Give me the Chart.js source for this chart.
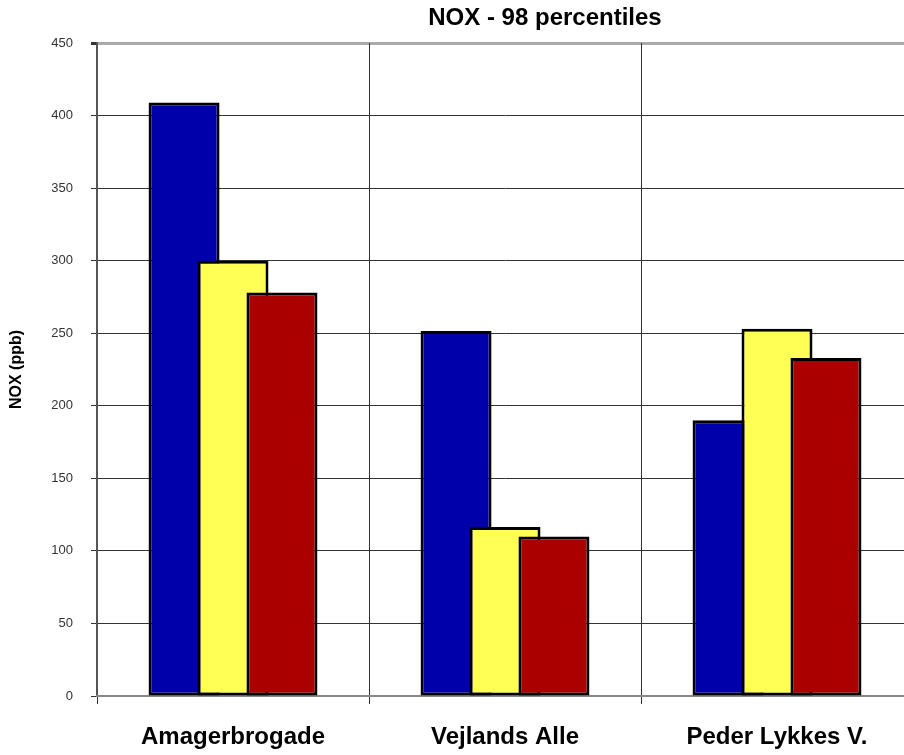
<!DOCTYPE html>
<html>
<head>
<meta charset="utf-8">
<script src="https://cdn.jsdelivr.net/npm/chart.js@4/dist/chart.umd.min.js"></script>
<style>
  html, body { margin: 0; padding: 0; background: #fff; overflow: hidden; }
  #wrap { position: relative; width: 914px; height: 755px; }
</style>
</head>
<body>
<div id="wrap"><canvas id="noxChart"></canvas></div>
<script>
// data
const sites = ['Amagerbrogade', 'Vejlands Alle', 'Peder Lykkes V.'];
const seriesBlue = [409, 251.5, 190];
const seriesYellow = [300, 116.5, 253];
const seriesRed = [278, 110, 233];
const yTicks = [0, 50, 100, 150, 200, 250, 300, 350, 400, 450];

const FONT = 'Liberation Sans, Arial, sans-serif';

// draw datasets first-to-last so the right bar overlaps the left one
const forwardDraw = {
    id: 'forwardDraw',
    beforeDatasetsDraw(chart) {
        chart.getSortedVisibleDatasetMetas().forEach(m => m.controller.draw());
        return false;
    }
};

// title in the original sits right of the plot centre
const shiftTitle = {
    id: 'shiftTitle',
    afterLayout(chart) {
        const t = chart.titleBlock;
        if (t) { t.left += 80; }
    }
};

const barStyle = {
    borderColor: '#000',
    borderWidth: 3,
    borderSkipped: false,
    categoryPercentage: 0.54,
    barPercentage: 1.45
};

const ctx = document.getElementById('noxChart').getContext('2d');

new Chart(ctx, {
    type: 'bar',
    data: {
        labels: sites,
        datasets: [
            { label: 'Serie 1', data: seriesBlue, backgroundColor: '#0000aa', ...barStyle },
            { label: 'Serie 2', data: seriesYellow, backgroundColor: '#ffff55', ...barStyle },
            { label: 'Serie 3', data: seriesRed, backgroundColor: '#aa0000', ...barStyle }
        ]
    },
    options: {
        responsive: true,
        maintainAspectRatio: false,
        animation: false,
        layout: { padding: { left: 0, right: 1, top: 0, bottom: 3 } },
        plugins: {
            legend: { display: false },
            tooltip: { enabled: false },
            title: {
                display: true,
                fullSize: false,
                text: 'NOX - 98 percentiles',
                color: '#000',
                font: { family: FONT, size: 24, weight: 'bold' },
                padding: { top: 4, bottom: 10.2 }
            }
        },
        scales: {
            y: {
                min: 0,
                max: 450,
                afterBuildTicks: s => { s.ticks = yTicks.map(v => ({ value: v })); },
                afterFit: s => { s.width = 97; },
                ticks: {
                    color: '#333',
                    padding: 18,
                    font: { family: FONT, size: 13 }
                },
                grid: {
                    color: c => c.tick && c.tick.value === 450 ? '#aaaaaa' : (c.tick && c.tick.value === 0 ? '#888' : '#333'),
                    lineWidth: c => c.tick && c.tick.value === 450 ? 3 : 1,
                    tickColor: '#333',
                    tickLength: 6
                },
                border: { color: '#555', width: 2 },
                title: {
                    display: true,
                    text: 'NOX (ppb)',
                    color: '#000',
                    font: { family: FONT, size: 16, weight: 'bold' },
                    padding: { top: 7, bottom: 0 }
                }
            },
            x: {
                afterFit: s => { s.height = 56; },
                ticks: {
                    color: '#000',
                    padding: 19,
                    font: { family: FONT, size: 24, weight: 'bold' }
                },
                grid: {
                    offset: true,
                    color: '#333',
                    lineWidth: 1,
                    tickLength: 8
                },
                border: { color: '#888', width: 2 }
            }
        }
    },
    plugins: [forwardDraw, shiftTitle]
});
</script>
</body>
</html>
